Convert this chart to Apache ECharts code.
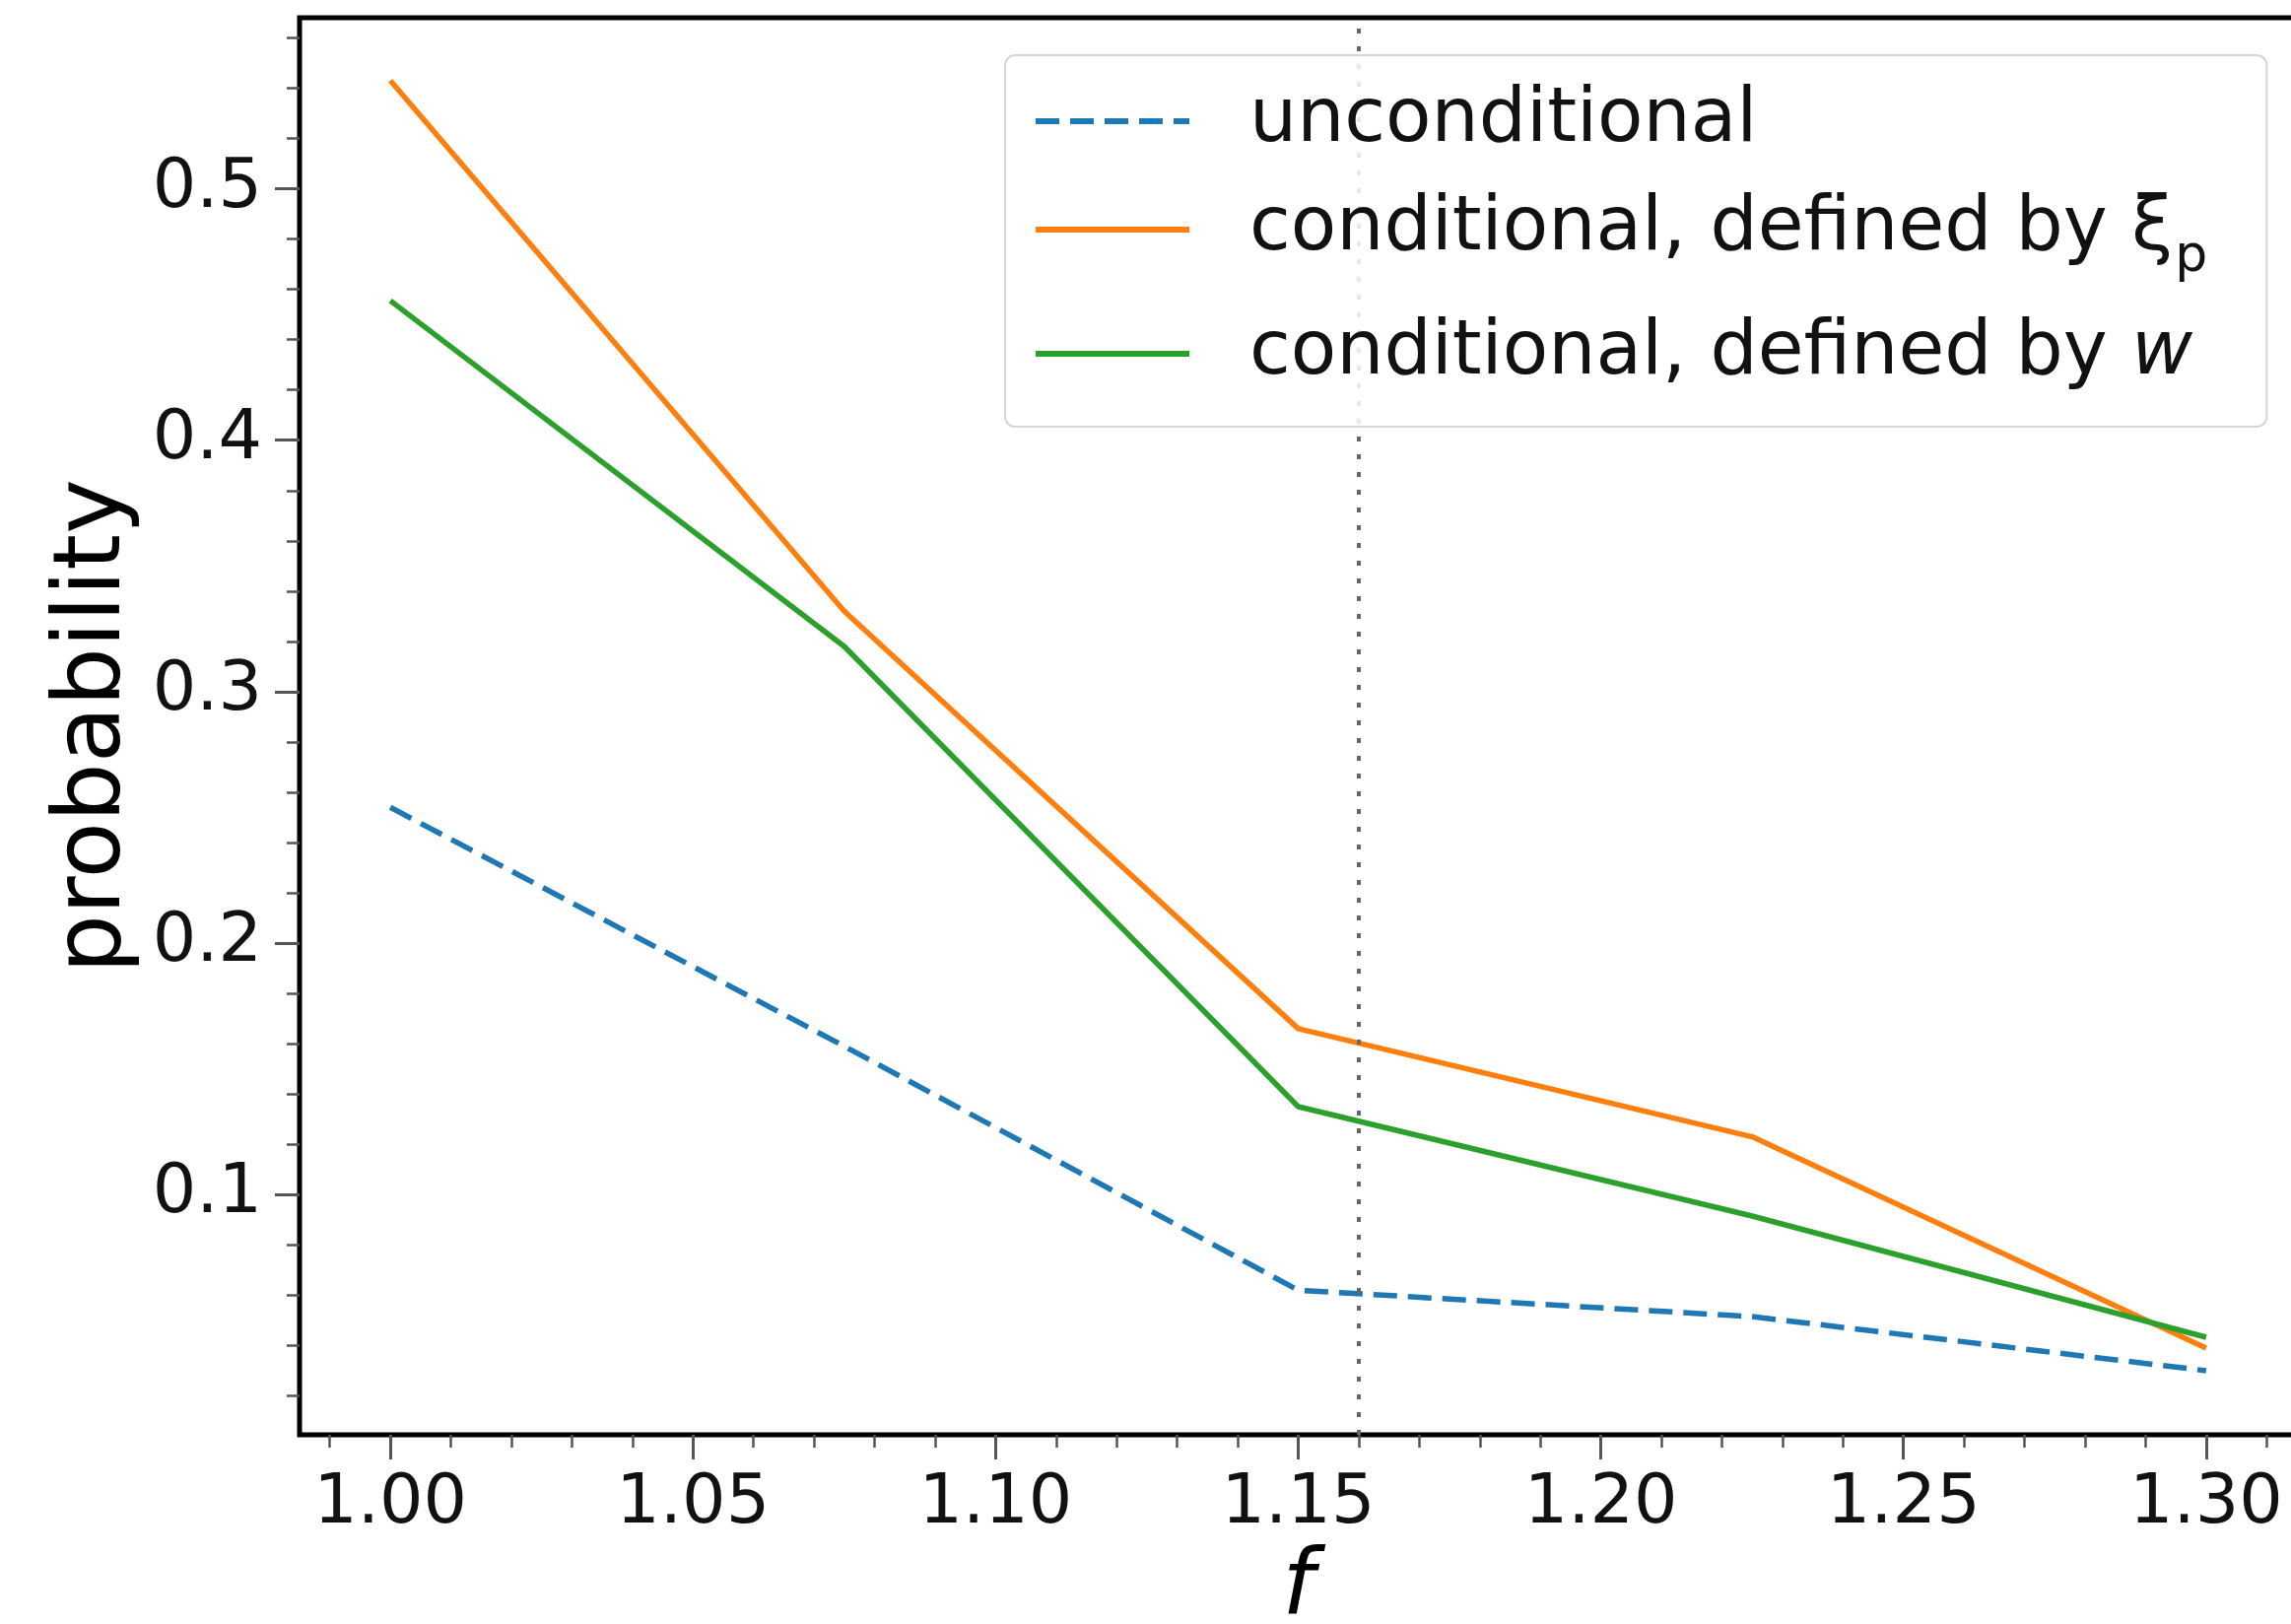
<!DOCTYPE html>
<html>
<head>
<meta charset="utf-8">
<script src="https://cdn.jsdelivr.net/npm/echarts@6/dist/echarts.min.js"></script>
<style>
html,body{margin:0;padding:0;background:#fff;}
#chart{width:2325px;height:1648px;}
</style>
</head>
<body>
<div id="chart"></div>
<script>
// ---- data ----
const fValues = [1.00, 1.075, 1.15, 1.225, 1.30];
const unconditional = [0.254, 0.159, 0.062, 0.0515, 0.030];
const conditionalXi = [0.543, 0.332, 0.166, 0.123, 0.039];
const conditionalW = [0.4555, 0.318, 0.135, 0.0915, 0.0433];
const seriesNames = ['unconditional', 'conditional, defined by ξp', 'conditional, defined by w'];
const markerF = 1.16;
// ---- ticks ----
const xMajorTicks = [1.00, 1.05, 1.10, 1.15, 1.20, 1.25, 1.30];
const xMinorTicks = [0.99, 1.01, 1.02, 1.03, 1.04, 1.06, 1.07, 1.08, 1.09, 1.11, 1.12, 1.13, 1.14,
  1.16, 1.17, 1.18, 1.19, 1.21, 1.22, 1.23, 1.24, 1.26, 1.27, 1.28, 1.29, 1.31];
const yMajorTicks = [0.1, 0.2, 0.3, 0.4, 0.5];
const yMinorTicks = [0.02, 0.04, 0.06, 0.08, 0.12, 0.14, 0.16, 0.18, 0.22, 0.24, 0.26, 0.28,
  0.32, 0.34, 0.36, 0.38, 0.42, 0.44, 0.46, 0.48, 0.52, 0.54, 0.56];

const X_MIN = 0.985, X_MAX = 1.315, Y_MIN = 0.0045, Y_MAX = 0.568;
const FONT = 'DejaVu Sans';

function pairs(ys){ return fValues.map((x,i)=>[x, ys[i]]); }

const chart = echarts.init(document.getElementById('chart'), null, {renderer:'canvas'});

const tickColor = '#555';
const option = {
  backgroundColor: '#ffffff',
  animation: false,
  grid: {left: 304, top: 18, right: -6, bottom: 192, outerBoundsMode: 'none', containLabel: false,
    show: true, borderColor: '#000', borderWidth: 5, backgroundColor: 'transparent'},
  legend: {
    orient: 'vertical',
    left: 1020, top: 56,
    padding: [29, 60, 36, 28],
    itemGap: 34,
    itemWidth: 156, itemHeight: 30,
    backgroundColor: 'rgba(255,255,255,0.85)',
    borderColor: '#d6d6d6', borderWidth: 2, borderRadius: 10,
    z: 20,
    itemStyle: {opacity: 0},
    lineStyle: {width: 6},
    data: seriesNames,
    formatter: function(name){
      if (name === seriesNames[1]) return '{t|conditional, defined by ξ}{sub|p}';
      if (name === seriesNames[2]) return '{t|conditional, defined by }{it|w}';
      return '{t|' + name + '}';
    },
    textStyle: {
      fontFamily: FONT, fontSize: 76, color: '#111', padding: [0,0,0,56],
      rich: {
        t: {fontFamily: FONT, fontSize: 76, color: '#111'},
        sub: {fontFamily: FONT, fontSize: 52, color: '#111', verticalAlign: 'bottom', padding: [0,0,-16,2]},
        it: {fontFamily: FONT, fontSize: 76, color: '#111', fontStyle: 'italic'}
      }
    }
  },
  xAxis: [{
    type: 'value', min: X_MIN, max: X_MAX,
    name: 'f', nameLocation: 'middle', nameGap: 112,
    nameTextStyle: {fontFamily: FONT, fontSize: 92, fontStyle: 'italic', color: '#000'},
    axisLine: {show: false},
    splitLine: {show: false},
    axisTick: {show: true, customValues: xMajorTicks, length: 25, lineStyle: {color: tickColor, width: 3}},
    axisLabel: {show: true, customValues: xMajorTicks, margin: 36, fontFamily: FONT, fontSize: 70, color: '#111',
      formatter: v => v.toFixed(2)}
  },{
    type: 'value', min: X_MIN, max: X_MAX, position: 'bottom',
    axisLine: {show: false}, splitLine: {show: false},
    axisTick: {show: true, customValues: xMinorTicks, length: 13, lineStyle: {color: tickColor, width: 2.5}},
    axisLabel: {show: false}
  }],
  yAxis: [{
    type: 'value', min: Y_MIN, max: Y_MAX,
    name: 'probability', nameLocation: 'middle', nameGap: 160,
    nameTextStyle: {fontFamily: FONT, fontSize: 94, color: '#000'},
    axisLine: {show: false},
    splitLine: {show: false},
    axisTick: {show: true, customValues: yMajorTicks, length: 25, lineStyle: {color: tickColor, width: 3}},
    axisLabel: {show: true, customValues: yMajorTicks, margin: 38, fontFamily: FONT, fontSize: 70, color: '#111',
      formatter: v => v.toFixed(1)}
  },{
    type: 'value', min: Y_MIN, max: Y_MAX, position: 'left',
    axisLine: {show: false}, splitLine: {show: false},
    axisTick: {show: true, customValues: yMinorTicks, length: 13, lineStyle: {color: tickColor, width: 2.5}},
    axisLabel: {show: false}
  }],
  series: [
    {
      name: seriesNames[0], type: 'line', xAxisIndex: 0, yAxisIndex: 0,
      data: pairs(unconditional), symbol: 'none',
      lineStyle: {color: '#1f77b4', width: 5.5, type: [24, 11]},
      itemStyle: {color: '#1f77b4'},
      markLine: {
        silent: true, symbol: 'none', label: {show: false},
        lineStyle: {color: '#666', width: 4, type: [5, 13]},
        data: [{xAxis: markerF}]
      }
    },
    {
      name: seriesNames[1], type: 'line', xAxisIndex: 0, yAxisIndex: 0,
      data: pairs(conditionalXi), symbol: 'none',
      lineStyle: {color: '#ff7f0e', width: 5.5},
      itemStyle: {color: '#ff7f0e'}
    },
    {
      name: seriesNames[2], type: 'line', xAxisIndex: 0, yAxisIndex: 0,
      data: pairs(conditionalW), symbol: 'none',
      lineStyle: {color: '#2ca02c', width: 5.5},
      itemStyle: {color: '#2ca02c'}
    }
  ]
};
chart.setOption(option);
</script>
</body>
</html>
